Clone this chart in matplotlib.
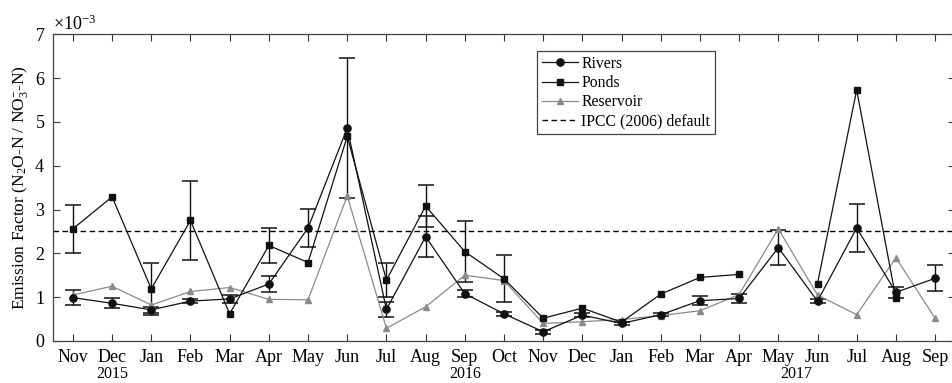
import numpy as np
import matplotlib
matplotlib.use('Agg')
import matplotlib.pyplot as plt
from matplotlib.ticker import ScalarFormatter

plt.rcParams['font.family'] = ['Liberation Serif', 'DejaVu Serif']
plt.rcParams['mathtext.default'] = 'regular'

months = ['Nov', 'Dec', 'Jan', 'Feb', 'Mar', 'Apr', 'May', 'Jun', 'Jul', 'Aug', 'Sep',
          'Oct', 'Nov', 'Dec', 'Jan', 'Feb', 'Mar', 'Apr', 'May', 'Jun', 'Jul', 'Aug', 'Sep']
years = ['2015', '2016', '2017']
year_pos = [2, 11, 19.45]   # label centre, in month index

# emission factor values, x 1e-3
rivers = [0.99, 0.86, 0.71, 0.91, 0.96, 1.30, 2.58, 4.86, 0.72, 2.38, 1.08,
          0.62, 0.21, 0.59, 0.40, 0.60, 0.92, 0.97, 2.13, 0.91, 2.58, 1.11, 1.43]
rivers_err = [0.18, 0.11, 0.06, 0.05, 0.09, 0.18, 0.44, 1.60, 0.17, 0.47, 0.08,
              0.04, 0.05, 0.05, 0.03, 0.04, 0.10, 0.10, 0.40, 0.05, 0.54, 0.12, 0.30]
ponds = [2.56, 3.29, 1.19, 2.75, 0.62, 2.18, 1.79, 4.67, 1.39, 3.08, 2.04,
         1.42, 0.52, 0.75, 0.43, 1.07, 1.45, 1.52, np.nan, 1.31, 5.73, 0.97, np.nan]
ponds_err = [0.55, np.nan, 0.60, 0.91, np.nan, 0.40, np.nan, np.nan, 0.38, 0.48, 0.70,
             0.54, np.nan, np.nan, np.nan, np.nan, np.nan, np.nan, np.nan, np.nan,
             np.nan, np.nan, np.nan]
reservoir = [1.05, 1.25, 0.82, 1.13, 1.22, 0.95, 0.94, 3.31, 0.29, 0.78, 1.50,
             1.38, 0.40, 0.44, 0.49, 0.58, 0.69, 1.06, 2.56, 1.05, 0.60, 1.90, 0.52]
ipcc_default = 2.5

scale = 1e-3
x = np.arange(1, len(months) + 1)
rv = np.array(rivers) * scale
pd_ = np.array(ponds) * scale
rs = np.array(reservoir) * scale

fig = plt.figure(figsize=(9.52, 3.83), dpi=100)
ax = fig.add_axes([0.056, 0.1097, 0.9468, 0.8008])

gray = '#8a8a8a'
ax.errorbar(x, rv, yerr=np.array(rivers_err) * scale, fmt='none', ecolor='#111111',
            elinewidth=1.0, capsize=6, capthick=1.1, zorder=2)
ax.errorbar(x, pd_, yerr=np.array(ponds_err) * scale, fmt='none', ecolor='#111111',
            elinewidth=1.0, capsize=6, capthick=1.1, zorder=2)

ax.plot(x, rv, '-o', color='#111111', lw=0.9, ms=5.2, label='Rivers', zorder=4)
ax.plot(x, pd_, '-s', color='#111111', lw=0.9, ms=3.8, label='Ponds', zorder=4)
ax.plot(x, rs, '-^', color=gray, lw=0.9, ms=5, label='Reservoir', zorder=3)
ax.axhline(ipcc_default * scale, color='black', ls=(0, (4, 2.5)), lw=1.0,
           label='IPCC (2006) default', zorder=1)

ax.set_xlim(0.5, 23.5)
ax.set_ylim(0, 7e-3)
ax.set_xticks(x)
ax.set_xticklabels(months)
ax.set_yticks(np.arange(0, 8) * scale)

fmt = ScalarFormatter(useMathText=True)
fmt.set_powerlimits((-3, -3))
ax.yaxis.set_major_formatter(fmt)
ax.yaxis.get_offset_text().set_fontsize(13)

ax.tick_params(direction='in', top=True, right=True, length=5, width=0.8,
               labelsize=13, pad=6, color='#333333')
for s in ax.spines.values():
    s.set_linewidth(0.9)
    s.set_color('#444444')

ax.set_ylabel('Emission Factor (N$_2$O-N / NO$_3^{-}$-N)', fontsize=12.5)
ax.yaxis.set_label_coords(-0.026, 0.5)

for yr, pos in zip(years, year_pos):
    ax.text(pos, -0.108, yr, transform=ax.get_xaxis_transform(), ha='center',
            va='center', fontsize=11.5)

leg = ax.legend(loc='upper left', bbox_to_anchor=(0.537, 0.945), fontsize=11.3,
                fancybox=False, edgecolor='#444444', framealpha=1,
                handlelength=2.3, handletextpad=0.2, labelspacing=0.2,
                borderpad=0.3, borderaxespad=0)
leg.get_frame().set_linewidth(0.9)

fig.savefig('out.png', dpi=100)
